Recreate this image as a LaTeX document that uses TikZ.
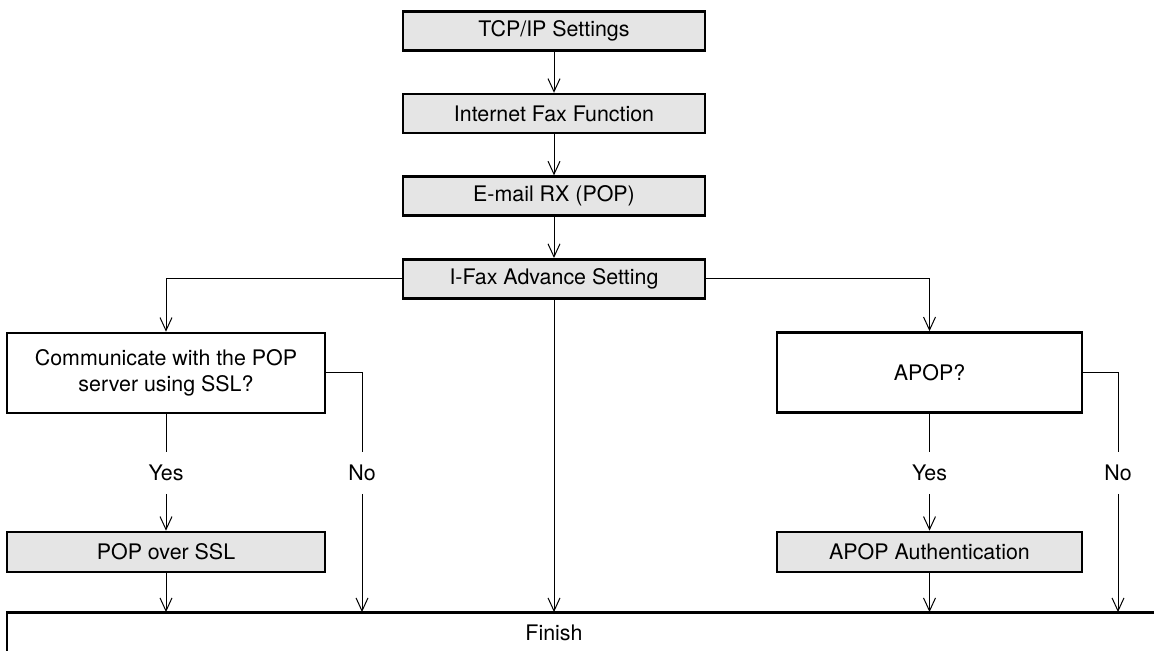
\documentclass[tikz,border=0pt]{standalone}
\usepackage{fontspec}
\setmainfont{TeX Gyre Heros}
\usetikzlibrary{arrows.meta,positioning}
\definecolor{boxgray}{RGB}{229,229,229}

\begin{document}
\begin{tikzpicture}[x=0.5pt,y=-0.5pt,node distance=20.5pt,font=\fontsize{10.7}{13}\selectfont,
  stepbox/.style={draw,line width=1.3pt,fill=boxgray,minimum width=151pt,minimum height=19.5pt,inner sep=0pt},
  askbox/.style={draw,line width=1.3pt,align=center,minimum width=159pt,minimum height=40pt,inner sep=0pt},
  answer/.style={inner sep=0pt,minimum height=20.5pt},
  link/.style={line width=0.5pt},
  flow/.style={link,-{Straight Barb[length=6.5pt,width=6pt]}}]
  \useasboundingbox (0,0) rectangle (1154,651);
  \clip (0,0) rectangle (1154,651);
  % main column
  \node[stepbox] (tcp) at (554,31) {TCP/IP Settings};
  \node[stepbox,below=of tcp] (ifax) {Internet Fax Function};
  \node[stepbox,below=of ifax] (rx) {E-mail RX (POP)};
  \node[stepbox,below=of rx] (adv) {I-Fax Advance Setting};
  % questions
  \node[askbox] (ssl) at (166,373) {Communicate with the POP\\server using SSL?};
  \node[askbox,minimum width=152.5pt] (apop) at (929.5,372.5) {APOP?};
  \node[answer] (sslyes) at (166,473) {Yes};
  \node[answer] (sslno) at (362,473) {No};
  \node[answer] (apopyes) at (929.5,473) {Yes};
  \node[answer] (apopno) at (1118,473) {No};
  \node[stepbox,minimum width=159pt,minimum height=20pt] (popssl) at (166,552) {POP over SSL};
  \node[stepbox,minimum width=152.5pt,minimum height=20pt] (auth) at (929.5,552) {APOP Authentication};
  % finish bar, cut off at the page edge
  \node[minimum height=20pt] (finish) at (554,632.5) {Finish};
  \draw[line width=1.3pt] (7,670) |- (1170,612.5);
  \draw[flow] (tcp) -- (ifax);
  \draw[flow] (ifax) -- (rx);
  \draw[flow] (rx) -- (adv);
  \draw[flow] (adv.west) -| (ssl.north);
  \draw[flow] (adv.east) -| (apop.north);
  \draw[flow] (adv.south) -- (finish.north);
  \draw[link] (ssl.south) -- (sslyes.north);
  \draw[flow] (sslyes.south) -- (popssl.north);
  \draw[link] (ssl.east) -| (sslno.north);
  \draw[flow] (sslno.south) -- (sslno.south |- finish.north);
  \draw[flow] (popssl.south) -- (popssl.south |- finish.north);
  \draw[link] (apop.south) -- (apopyes.north);
  \draw[flow] (apopyes.south) -- (auth.north);
  \draw[link] (apop.east) -| (apopno.north);
  \draw[flow] (apopno.south) -- (apopno.south |- finish.north);
  \draw[flow] (auth.south) -- (auth.south |- finish.north);
\end{tikzpicture}
\end{document}
